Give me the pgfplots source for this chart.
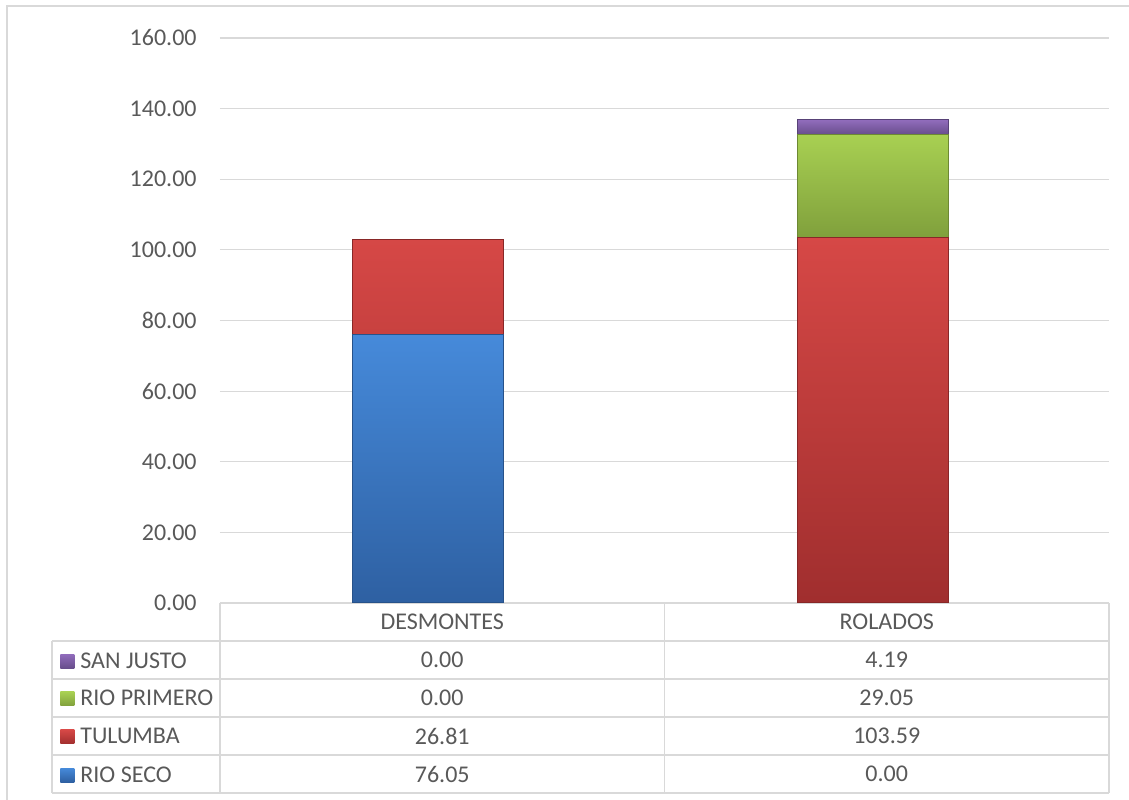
\documentclass[border=0pt]{standalone}
\usepackage{pgfplots}
\pgfplotsset{compat=1.18}
\usepackage{fontspec}
\setmainfont{Carlito}

\definecolor{txt}{RGB}{89,89,89}
\definecolor{gridgray}{RGB}{217,217,217}
\definecolor{blueT}{RGB}{70,138,218}
\definecolor{blueB}{RGB}{46,96,162}
\definecolor{redT}{RGB}{214,72,70}
\definecolor{redB}{RGB}{160,46,46}
\definecolor{greenT}{RGB}{168,208,82}
\definecolor{greenB}{RGB}{128,160,60}
\definecolor{purpT}{RGB}{145,108,188}
\definecolor{purpB}{RGB}{104,78,140}

\newcommand{\key}[2]{\tikz[baseline=0pt]\path[top color=#1, bottom color=#2] (0pt,0pt) rectangle (7pt,7pt);}

\begin{document}
\begin{tikzpicture}
\begin{axis}[
    scale only axis,
    width=444.5pt, height=282.5pt,
    xmin=-0.5, xmax=1.5,
    ymin=0, ymax=160,
    xtick=\empty,
    ytick={0,20,...,160},
    ymajorgrids,
    grid style={gridgray, line width=0.6pt},
    axis line style={draw=none},
    major tick length=0pt,
    /pgf/number format/assume math mode=true,
    yticklabel style={font=\fontsize{12}{14}\selectfont, text=txt, inner sep=0pt, xshift=-11.5pt,
        /pgf/number format/.cd, fixed, fixed zerofill, precision=2},
    ybar stacked,
    bar width=75.5pt,
    bar shift=-7pt,
    clip=false,
]
    % RIO SECO, TULUMBA, RIO PRIMERO, SAN JUSTO
    \addplot[draw=blueB!85!black, line width=0.5pt, shade, top color=blueT, bottom color=blueB] coordinates {(0,76.05) (1,0)};
    \addplot[draw=redB!85!black, line width=0.5pt, shade, top color=redT, bottom color=redB] coordinates {(0,26.81) (1,103.59)};
    \addplot[draw=greenB!85!black, line width=0.5pt, shade, top color=greenT, bottom color=greenB] coordinates {(0,0) (1,29.05)};
    \addplot[draw=purpB!85!black, line width=0.5pt, shade, top color=purpT, bottom color=purpB] coordinates {(0,0) (1,4.19)};

    % data table under the plot
    \draw[gridgray, line width=0.7pt]
        (axis description cs:0,0) -- (axis description cs:1,0)
        (axis description cs:-0.18898,-0.06726) -- (axis description cs:1,-0.06726)
        (axis description cs:-0.18898,-0.13451) -- (axis description cs:1,-0.13451)
        (axis description cs:-0.18898,-0.20177) -- (axis description cs:1,-0.20177)
        (axis description cs:-0.18898,-0.26903) -- (axis description cs:1,-0.26903)
        (axis description cs:-0.18898,-0.33628) -- (axis description cs:1,-0.33628)
        (axis description cs:0,0) -- (axis description cs:0,-0.33628)
        (axis description cs:0.5,0) -- (axis description cs:0.5,-0.33628)
        (axis description cs:1,0) -- (axis description cs:1,-0.33628)
        (axis description cs:-0.18898,-0.06726) -- (axis description cs:-0.18898,-0.33628);
    \draw[gridgray, line width=1pt] (axis description cs:-0.2396,-0.34867) -- (axis description cs:-0.2396,1.05664) -- (axis description cs:1.0225,1.05664);
    \node[font=\fontsize{12}{14}\selectfont, text=txt] at (axis description cs:0.25,-0.03363) {DESMONTES};
    \node[font=\fontsize{12}{14}\selectfont, text=txt] at (axis description cs:0.75,-0.03363) {ROLADOS};
    \node[font=\fontsize{12}{14}\selectfont, text=txt] at (axis description cs:0.25,-0.1009) {0.00};
    \node[font=\fontsize{12}{14}\selectfont, text=txt] at (axis description cs:0.75,-0.1009) {4.19};
    \node[font=\fontsize{12}{14}\selectfont, text=txt] at (axis description cs:0.25,-0.1681) {0.00};
    \node[font=\fontsize{12}{14}\selectfont, text=txt] at (axis description cs:0.75,-0.1681) {29.05};
    \node[font=\fontsize{12}{14}\selectfont, text=txt] at (axis description cs:0.25,-0.2354) {26.81};
    \node[font=\fontsize{12}{14}\selectfont, text=txt] at (axis description cs:0.75,-0.2354) {103.59};
    \node[font=\fontsize{12}{14}\selectfont, text=txt] at (axis description cs:0.25,-0.3027) {76.05};
    \node[font=\fontsize{12}{14}\selectfont, text=txt] at (axis description cs:0.75,-0.3027) {0.00};
    % series labels (legend) in the first column
    \node[font=\fontsize{12}{14}\selectfont, text=txt, anchor=west, inner sep=0pt, text height=8pt, text depth=0pt] at (axis description cs:-0.17998,-0.1009) {\key{purpT}{purpB}\hspace{3pt}SAN JUSTO};
    \node[font=\fontsize{12}{14}\selectfont, text=txt, anchor=west, inner sep=0pt, text height=8pt, text depth=0pt] at (axis description cs:-0.17998,-0.1681) {\key{greenT}{greenB}\hspace{3pt}RIO PRIMERO};
    \node[font=\fontsize{12}{14}\selectfont, text=txt, anchor=west, inner sep=0pt, text height=8pt, text depth=0pt] at (axis description cs:-0.17998,-0.2354) {\key{redT}{redB}\hspace{3pt}TULUMBA};
    \node[font=\fontsize{12}{14}\selectfont, text=txt, anchor=west, inner sep=0pt, text height=8pt, text depth=0pt] at (axis description cs:-0.17998,-0.3027) {\key{blueT}{blueB}\hspace{3pt}RIO SECO};
    \coordinate (bbsw) at (axis description cs:-0.24747,-0.34867);
    \coordinate (bbne) at (axis description cs:1.0225,1.06726);
\end{axis}
\pgfresetboundingbox
\useasboundingbox (bbsw) rectangle (bbne);
\end{tikzpicture}
\end{document}
